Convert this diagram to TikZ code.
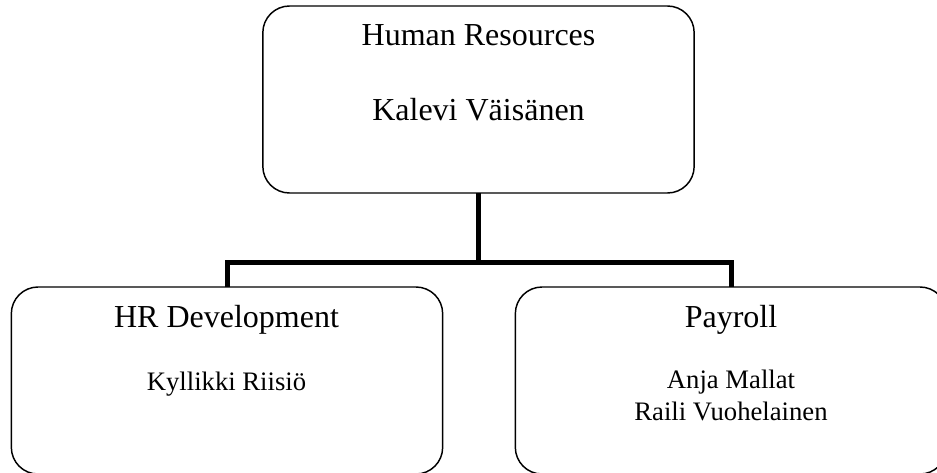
\documentclass[tikz,border=0pt]{standalone}
\usepackage{fontspec}
\setmainfont{Liberation Serif}
\usepackage{tikz}
\usetikzlibrary{positioning}
\newcommand{\bigname}{\fontsize{24}{28}\selectfont}
\newcommand{\smallname}{\fontsize{20}{24}\selectfont}

\begin{document}
\begin{tikzpicture}[x=0.75pt, y=-0.75pt,
  unitbox/.style={draw, rounded corners=20pt, line width=1.1pt, minimum width=323.5pt, minimum height=140.25pt, inner sep=0pt, outer sep=0pt},
  unittitle/.style={anchor=base, inner sep=0pt, font=\bigname},
  staff/.style={anchor=base, inner sep=0pt, align=center, font=\smallname},
  conn/.style={line width=3.75pt}]
\useasboundingbox (0,0) rectangle (937,472);
% Top unit
\node (hr) at (478.5, 99.5) [unitbox] {};
\node (hrname) at (478.5, 45) [unittitle] {Human Resources};
\node (hrhead) at (478.5, 120) [unittitle] {Kalevi Väisänen};
% Sub units
\node (dev) at (227, 380.5) [unitbox] {};
\node (devname) at (226.5, 327) [unittitle] {HR Development};
\node (devstaff) at (226.5, 390) [staff] {Kyllikki Riisiö};
\node (pay) at (731, 380.5) [unitbox] {};
\node (payname) at (731, 327) [unittitle] {Payroll};
\node (paystaff) at (731, 420) [staff] {Anja Mallat\\Raili Vuohelainen};

% Connectors
\coordinate (bus) at (hr.south |- 0, 262.5);
\draw[conn] (hr.south) -- (bus);
\draw[conn] (dev.north) |- (bus) -| (pay.north);
\end{tikzpicture}
\end{document}
